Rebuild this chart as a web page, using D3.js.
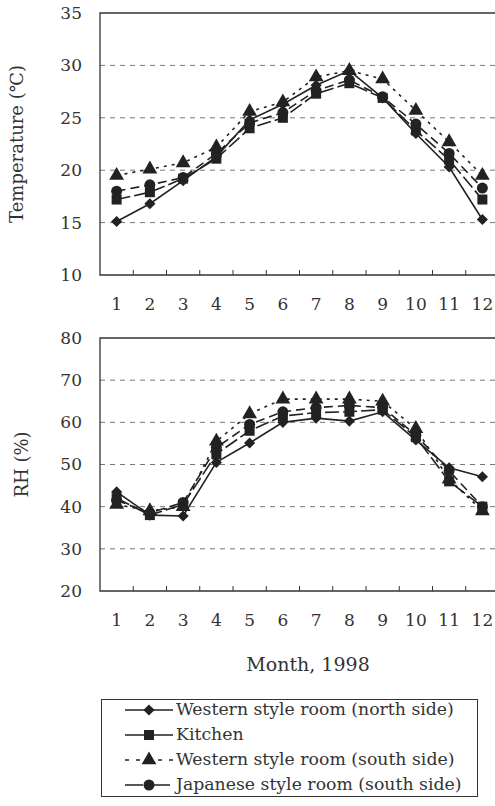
<!DOCTYPE html>
<html>
<head>
<meta charset="utf-8">
<script src="https://cdn.jsdelivr.net/npm/d3@7"></script>
<style>
  body { margin: 0; background: #fff; }
  svg { display: block; }
  text { font-family: "DejaVu Serif", "Liberation Serif", serif; fill: #333; }
</style>
</head>
<body>
<svg width="495" height="806"></svg>
<script>
const months = [1, 2, 3, 4, 5, 6, 7, 8, 9, 10, 11, 12];

const seriesNames = [
    'Western style room (north side)',
    'Kitchen',
    'Western style room (south side)',
    'Japanese style room (south side)'
];

// temperature, °C
const tempNorth = [15.1, 16.8, 19.0, 21.3, 24.8, 26.3, 28.1, 29.5, 26.9, 23.5, 20.3, 15.3];
const tempKitchen = [17.2, 17.9, 19.2, 21.1, 24.0, 25.0, 27.3, 28.3, 26.9, 23.8, 21.0, 17.2];
const tempSouth = [19.5, 20.1, 20.7, 22.2, 25.6, 26.5, 28.9, 29.5, 28.7, 25.7, 22.7, 19.5];
const tempJapanese = [18.0, 18.6, 19.3, 21.6, 24.5, 25.5, 27.6, 28.6, 27.0, 24.4, 21.6, 18.3];

// relative humidity, %
const rhNorth = [43.5, 38.0, 37.8, 50.5, 55.1, 60.0, 61.0, 60.3, 62.5, 55.8, 49.2, 47.1];
const rhKitchen = [42.0, 38.0, 40.5, 52.5, 58.0, 61.5, 62.3, 62.5, 63.0, 56.5, 46.0, 40.0];
const rhSouth = [40.5, 39.0, 40.0, 55.5, 62.0, 65.5, 65.5, 65.5, 65.0, 58.5, 46.5, 39.0];
const rhJapanese = [41.5, 38.5, 41.0, 54.0, 59.5, 62.5, 63.5, 64.0, 63.5, 57.0, 48.5, 40.0];

const tempTicks = [10, 15, 20, 25, 30, 35];
const rhTicks = [20, 30, 40, 50, 60, 70, 80];

const ink = '#222';
const styles = [
    { symbol: 'diamond', dash: null },
    { symbol: 'square', dash: '14,4' },
    { symbol: 'triangle', dash: '3,5' },
    { symbol: 'circle', dash: '9,5' }
];

const svg = d3.select('svg');

const markerPath = name => {
    if (name === 'diamond') return d3.symbol(d3.symbolSquare, 62)();
    if (name === 'square') return d3.symbol(d3.symbolSquare, 100)();
    if (name === 'triangle') return d3.symbol(d3.symbolTriangle, 95)();
    return d3.symbol(d3.symbolCircle, 95)();
};

const drawPanel = (opts) => {
    const { top, bottom, domain, ticks, title, titleX, data } = opts;
    const left = 100, right = 499;

    const x = d3.scaleBand().domain(months).range([left, right]);
    const y = d3.scaleLinear().domain(domain).range([bottom, top]);
    const cx = m => x(m) + x.bandwidth() / 2;

    const g = svg.append('g');

    // dashed grid
    g.selectAll('line.grid').data(ticks.slice(1, -1))
        .enter().append('line')
        .attr('x1', left).attr('x2', right)
        .attr('y1', d => y(d)).attr('y2', d => y(d))
        .attr('stroke', '#777').attr('stroke-width', 1)
        .attr('stroke-dasharray', '5,5');

    // frame
    g.append('path')
        .attr('d', `M${right},${top}H${left}V${bottom}H${right}`)
        .attr('fill', 'none').attr('stroke', '#333').attr('stroke-width', 1.3);

    // small ticks at band boundaries
    g.selectAll('line.tick').data(months.slice(1))
        .enter().append('line')
        .attr('x1', d => x(d)).attr('x2', d => x(d))
        .attr('y1', bottom).attr('y2', bottom - 5)
        .attr('stroke', '#333').attr('stroke-width', 1);

    // y labels
    g.append('g')
        .attr('transform', `translate(${left},0)`)
        .call(d3.axisLeft(y).tickValues(ticks).tickSize(0).tickPadding(18))
        .call(a => a.select('.domain').remove())
        .selectAll('text')
        .style('font-size', '17px').style('font-family', '"DejaVu Serif", serif').attr('fill', '#333');

    // x labels
    g.append('g')
        .attr('transform', `translate(0,${bottom})`)
        .call(d3.axisBottom(x).tickSize(0).tickPadding(23))
        .call(a => a.select('.domain').remove())
        .selectAll('text')
        .style('font-size', '17px').style('font-family', '"DejaVu Serif", serif').attr('fill', '#333');

    // axis title
    g.append('text')
        .attr('transform', `translate(${titleX},${(top + bottom) / 2}) rotate(-90)`)
        .attr('text-anchor', 'middle')
        .attr('dominant-baseline', 'middle')
        .style('font-size', '18px')
        .text(title);

    const line = d3.line().x((d, i) => cx(months[i])).y(d => y(d));

    data.forEach((vals, k) => {
        g.append('path')
            .attr('d', line(vals))
            .attr('fill', 'none')
            .attr('stroke', ink)
            .attr('stroke-width', 1.6)
            .attr('stroke-dasharray', styles[k].dash);
    });

    [1, 3, 2, 0].forEach(k => {
        g.selectAll(null).data(data[k])
            .enter().append('path')
            .attr('d', markerPath(styles[k].symbol))
            .attr('transform', (d, i) =>
                `translate(${cx(months[i])},${y(d)})${styles[k].symbol === 'diamond' ? ' rotate(45)' : ''}`)
            .attr('fill', ink);
    });
};

drawPanel({
    top: 13, bottom: 275, domain: [10, 35], ticks: tempTicks,
    title: 'Temperature (℃)', titleX: 18,
    data: [tempNorth, tempKitchen, tempSouth, tempJapanese]
});

drawPanel({
    top: 338, bottom: 591, domain: [20, 80], ticks: rhTicks,
    title: 'RH (%)', titleX: 23,
    data: [rhNorth, rhKitchen, rhSouth, rhJapanese]
});

svg.append('text')
    .attr('x', 308).attr('y', 671)
    .attr('text-anchor', 'middle')
    .style('font-size', '19px')
    .text('Month, 1998');

// legend
const legend = svg.append('g');
legend.append('rect')
    .attr('x', 101.5).attr('y', 699.5).attr('width', 376).attr('height', 97)
    .attr('fill', 'none').attr('stroke', '#333').attr('stroke-width', 1);

const rowY = d3.scalePoint().domain(seriesNames).range([710, 785]);

seriesNames.forEach((name, k) => {
    const yy = rowY(name);
    legend.append('line')
        .attr('x1', 125).attr('x2', 173).attr('y1', yy).attr('y2', yy)
        .attr('stroke', ink).attr('stroke-width', 1.6)
        .attr('stroke-dasharray', k === 2 ? '4,7' : k === 3 ? '18,9' : null);
    legend.append('path')
        .attr('d', markerPath(styles[k].symbol))
        .attr('transform', `translate(149,${yy})${styles[k].symbol === 'diamond' ? ' rotate(45)' : ''}`)
        .attr('fill', ink);
    legend.append('text')
        .attr('x', 176).attr('y', yy)
        .attr('dominant-baseline', 'middle')
        .style('font-size', '17.3px')
        .text(name);
});
</script>
</body>
</html>
